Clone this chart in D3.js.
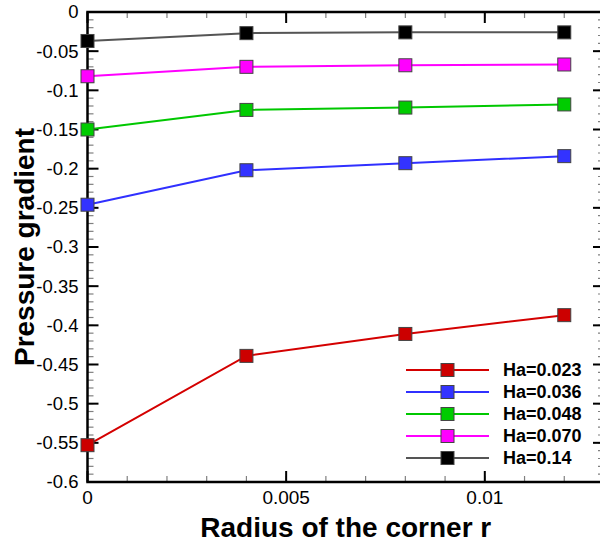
<!DOCTYPE html>
<html>
<head>
<meta charset="utf-8">
<script src="https://cdn.jsdelivr.net/npm/d3@7"></script>
<style>
  html, body { margin: 0; padding: 0; background: #fff; }
  svg { display: block; font-family: "Liberation Sans", Arial, sans-serif; }
</style>
</head>
<body>
<svg id="chart" width="600" height="546"></svg>
<script>
// Corner radius values (x) shared by every series
const radius = [0, 0.004, 0.008, 0.012];

// Pressure gradient for each Hartmann number
const seriesNames = ["Ha=0.023", "Ha=0.036", "Ha=0.048", "Ha=0.070", "Ha=0.14"];
const ha0023 = [-0.553, -0.439, -0.411, -0.387];
const ha0036 = [-0.246, -0.202, -0.193, -0.184];
const ha0048 = [-0.150, -0.125, -0.122, -0.118];
const ha0070 = [-0.082, -0.070, -0.068, -0.067];
const ha014  = [-0.037, -0.027, -0.026, -0.026];
const seriesValues = [ha0023, ha0036, ha0048, ha0070, ha014];

const lineColors   = ["#d40000", "#3030ff", "#00c800", "#ff00ff", "#555555"];
const markerColors = ["#cc0000", "#3333ff", "#00cc00", "#ff00ff", "#000000"];

const yTickValues = [0, -0.05, -0.1, -0.15, -0.2, -0.25, -0.3, -0.35, -0.4, -0.45, -0.5, -0.55, -0.6];
const yTickLabels = ["0", "-0.05", "-0.1", "-0.15", "-0.2", "-0.25", "-0.3", "-0.35", "-0.4", "-0.45", "-0.5", "-0.55", "-0.6"];
const xTickValues = [0, 0.005, 0.01];
const xTickLabels = ["0", "0.005", "0.01"];

const svg = d3.select("#chart");
const plotLeft = 87.5, plotRight = 604, plotTop = 12, plotBottom = 482;

const x = d3.scaleLinear().domain([0, 0.013]).range([plotLeft, plotRight]);
const y = d3.scaleLinear().domain([-0.6, 0]).range([plotBottom, plotTop]);

const minorX = d3.range(0, 14).map(i => i * 0.001);
const minorY = d3.range(0, 61).map(i => -i * 0.01);

const g = svg.append("g");

// Minor ticks (all four sides, pointing inward)
const minorColor = "#808080";
g.selectAll(".mxb").data(minorX).join("line")
  .attr("x1", d => x(d)).attr("x2", d => x(d))
  .attr("y1", plotBottom).attr("y2", plotBottom - 6)
  .attr("stroke", minorColor).attr("stroke-width", 1.2);
g.selectAll(".mxt").data(minorX).join("line")
  .attr("x1", d => x(d)).attr("x2", d => x(d))
  .attr("y1", plotTop).attr("y2", plotTop + 6)
  .attr("stroke", minorColor).attr("stroke-width", 1.2);
g.selectAll(".myl").data(minorY).join("line")
  .attr("x1", plotLeft).attr("x2", plotLeft + 6)
  .attr("y1", d => y(d)).attr("y2", d => y(d))
  .attr("stroke", minorColor).attr("stroke-width", 1.2);
g.selectAll(".myr").data(minorY).join("line")
  .attr("x1", plotRight).attr("x2", plotRight - 6)
  .attr("y1", d => y(d)).attr("y2", d => y(d))
  .attr("stroke", minorColor).attr("stroke-width", 1.2);

// Major ticks
g.selectAll(".Mxb").data(xTickValues).join("line")
  .attr("x1", d => x(d)).attr("x2", d => x(d))
  .attr("y1", plotBottom).attr("y2", plotBottom - 11)
  .attr("stroke", "#000").attr("stroke-width", 2);
g.selectAll(".Mxt").data(xTickValues).join("line")
  .attr("x1", d => x(d)).attr("x2", d => x(d))
  .attr("y1", plotTop).attr("y2", plotTop + 11)
  .attr("stroke", "#000").attr("stroke-width", 2);
g.selectAll(".Myl").data(yTickValues).join("line")
  .attr("x1", plotLeft).attr("x2", plotLeft + 11)
  .attr("y1", d => y(d)).attr("y2", d => y(d))
  .attr("stroke", "#000").attr("stroke-width", 2);
g.selectAll(".Myr").data(yTickValues).join("line")
  .attr("x1", plotRight).attr("x2", plotRight - 11)
  .attr("y1", d => y(d)).attr("y2", d => y(d))
  .attr("stroke", "#000").attr("stroke-width", 2);

// Frame
g.append("rect")
  .attr("x", plotLeft).attr("y", plotTop)
  .attr("width", plotRight - plotLeft).attr("height", plotBottom - plotTop)
  .attr("fill", "none").attr("stroke", "#000").attr("stroke-width", 2.5);

// Tick labels
g.selectAll(".yl").data(yTickValues).join("text")
  .attr("x", plotLeft - 9).attr("y", d => y(d)).attr("dy", "0.35em")
  .attr("text-anchor", "end").attr("font-size", 18.5).attr("fill", "#000")
  .text((d, i) => yTickLabels[i]);
g.selectAll(".xl").data(xTickValues).join("text")
  .attr("x", d => x(d)).attr("y", plotBottom + 22)
  .attr("text-anchor", "middle").attr("font-size", 19).attr("fill", "#000")
  .text((d, i) => xTickLabels[i]);

// Axis titles
svg.append("text")
  .attr("x", (plotLeft + plotRight) / 2).attr("y", 537)
  .attr("text-anchor", "middle").attr("font-size", 28).attr("font-weight", "bold")
  .text("Radius of the corner r");
svg.append("text")
  .attr("transform", `translate(34,${(plotTop + plotBottom) / 2}) rotate(-90)`)
  .attr("text-anchor", "middle").attr("font-size", 28).attr("font-weight", "bold")
  .text("Pressure gradient");

// Series lines and markers
const line = d3.line().x((d, i) => x(radius[i])).y(d => y(d));
const ms = 13;
seriesValues.forEach((vals, s) => {
  g.append("path").datum(vals)
    .attr("d", line).attr("fill", "none")
    .attr("stroke", lineColors[s]).attr("stroke-width", 2);
  g.selectAll(".m" + s).data(vals).join("rect")
    .attr("x", (d, i) => x(radius[i]) - ms / 2)
    .attr("y", d => y(d) - ms / 2)
    .attr("width", ms).attr("height", ms)
    .attr("fill", markerColors[s]).attr("stroke", "#444").attr("stroke-width", 1);
});

// Legend
const legend = svg.append("g");
const legY0 = 370, legDy = 22;
seriesNames.forEach((name, s) => {
  const ly = legY0 + s * legDy;
  legend.append("line")
    .attr("x1", 406).attr("x2", 489).attr("y1", ly).attr("y2", ly)
    .attr("stroke", lineColors[s]).attr("stroke-width", 2);
  legend.append("rect")
    .attr("x", 447.5 - ms / 2).attr("y", ly - ms / 2)
    .attr("width", ms).attr("height", ms)
    .attr("fill", markerColors[s]).attr("stroke", "#444").attr("stroke-width", 1);
  legend.append("text")
    .attr("x", 503).attr("y", ly).attr("dy", "0.36em")
    .attr("font-size", 18).attr("font-weight", "bold")
    .text(name);
});
</script>
</body>
</html>
